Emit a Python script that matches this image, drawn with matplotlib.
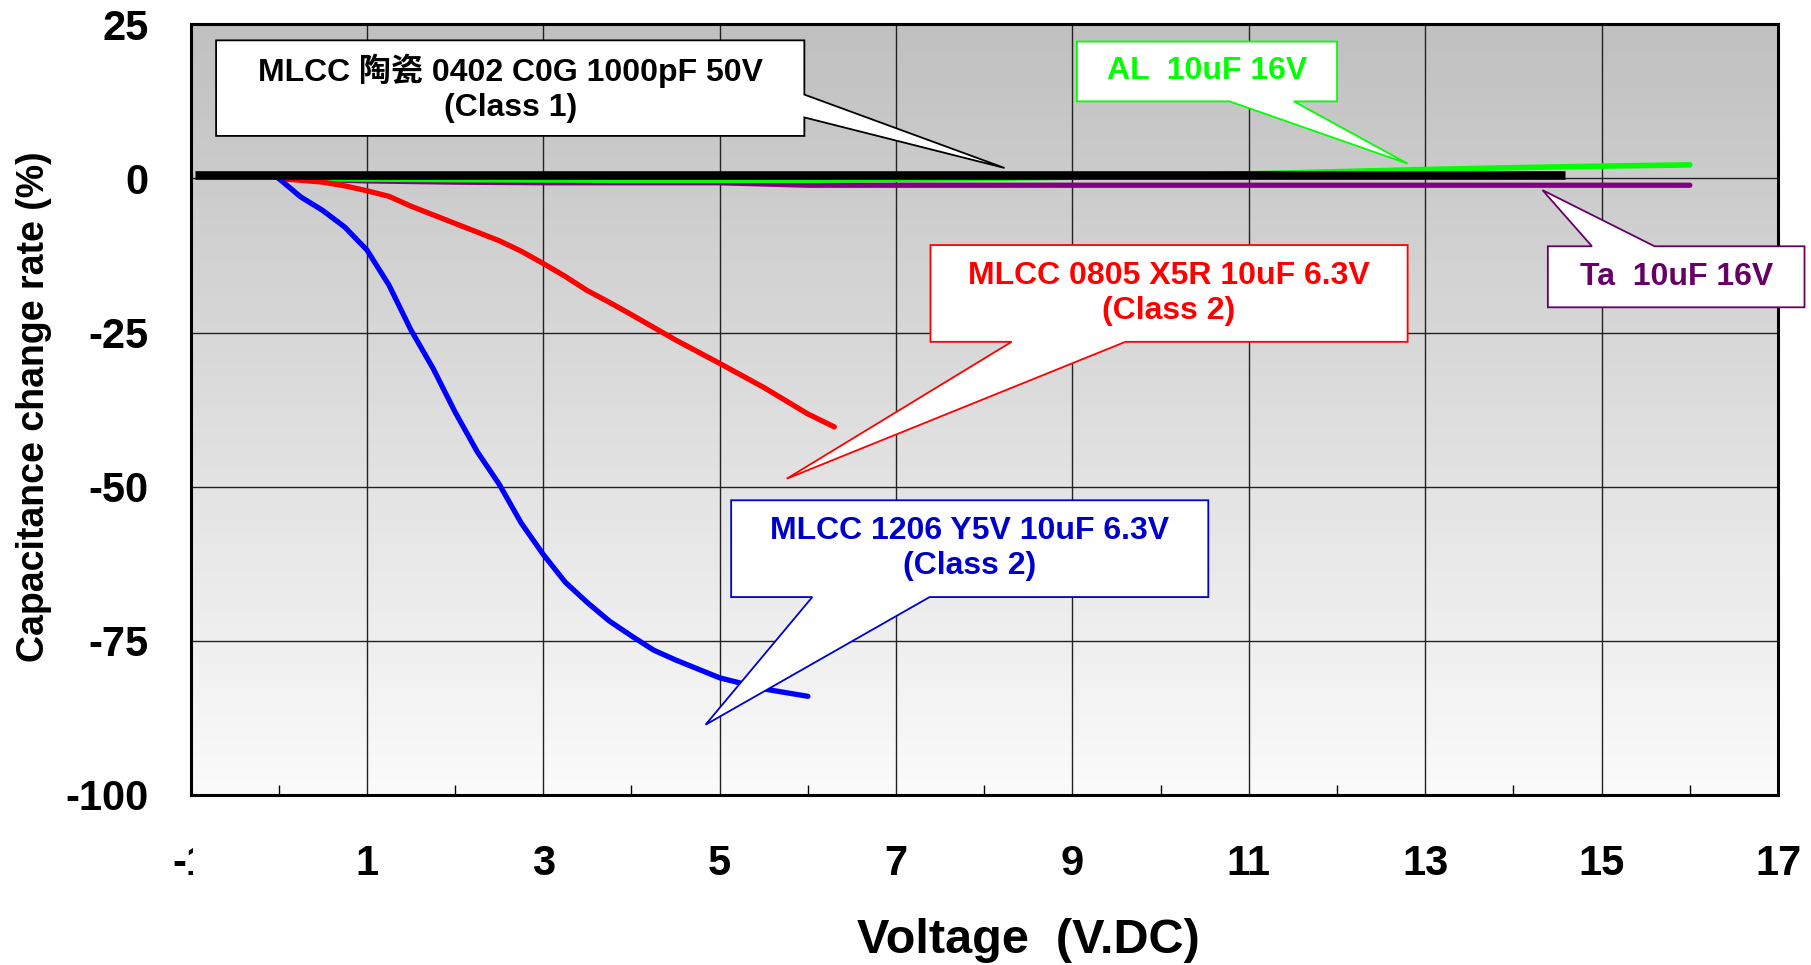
import matplotlib
matplotlib.use('Agg')
import matplotlib.pyplot as plt
import numpy as np
from matplotlib.patches import Polygon
from matplotlib.colors import LinearSegmentedColormap
from matplotlib.transforms import Bbox

plt.rcParams['font.family'] = ['Liberation Sans', 'Noto Sans CJK SC', 'DejaVu Sans']
plt.rcParams['font.weight'] = 'bold'

# --- datos ---
c0g_v = [-0.95, 14.58]
c0g_pct = [0.5, 0.5]

al_v = [0, 2, 4, 6, 8, 9, 10, 11, 12, 13, 14, 15, 16]
al_pct = [0, -0.2, -0.3, -0.3, 0, 0.2, 0.45, 0.75, 1.1, 1.45, 1.75, 2.0, 2.2]

ta_v = [0, 1, 2, 3, 4, 5, 5.5, 6, 8, 10, 12, 14, 16]
ta_pct = [0, -0.4, -0.6, -0.7, -0.7, -0.7, -0.9, -1.1, -1.1, -1.1, -1.1, -1.1, -1.1]

x5r_v = [0, 0.5, 0.75, 1.0, 1.25, 1.5, 1.75, 2.0, 2.25, 2.5, 2.75, 3.0, 3.25,
         3.5, 3.75, 4.0, 4.5, 5.0, 5.5, 6.0, 6.3]
x5r_pct = [0, -0.6, -1.2, -2.0, -2.9, -4.5, -5.9, -7.3, -8.7, -10.1, -11.8, -13.8,
           -15.9, -18.2, -20.1, -22.1, -26.2, -30.0, -33.9, -38.2, -40.3]

y5v_v = [0, 0.25, 0.5, 0.75, 1.0, 1.25, 1.5, 1.75, 2.0, 2.25, 2.5, 2.75, 3.0,
         3.25, 3.5, 3.75, 4.0, 4.25, 4.5, 5.0, 5.5, 6.0]
y5v_pct = [0, -3.0, -5.2, -7.9, -11.6, -17.3, -24.6, -30.8, -37.9, -44.3, -49.6,
           -55.9, -61.0, -65.5, -68.8, -71.8, -74.2, -76.5, -78.1, -81.0, -82.8, -84.0]

x_ticks = [-1, 1, 3, 5, 7, 9, 11, 13, 15, 17]
x_minor = [0, 2, 4, 6, 8, 10, 12, 14, 16]
y_ticks = [-100, -75, -50, -25, 0, 25]

# --- figura ---
fig = plt.figure(figsize=(18.11, 9.65), dpi=100)
ax = fig.add_axes([0.1052, 0.1762, 0.8766, 0.7986])

# fondo degradado del area de trazado
cmap_bg = LinearSegmentedColormap.from_list('bg', ['#c0c0c0', '#fbfbfb'])
ax.imshow(np.linspace(0, 1, 256).reshape(-1, 1), extent=[-1, 17, -100, 25],
          cmap=cmap_bg, aspect='auto', zorder=0)

ax.set_xlim(-1, 17)
ax.set_ylim(-100, 25)
ax.set_axisbelow(True)
ax.grid(True, which='major', color='#222222', linewidth=1.0)

ax.set_xticks(x_ticks, [str(t) for t in x_ticks])
ax.set_xticks(x_minor, minor=True)
ax.set_yticks(y_ticks, [str(t) for t in y_ticks])
ax.tick_params(axis='x', which='major', length=0, pad=35, labelsize=30)
ax.tick_params(axis='x', which='minor', direction='in', length=7, width=1.0)
ax.tick_params(axis='y', which='major', length=0, pad=30, labelsize=30)
for s in ax.spines.values():
    s.set_linewidth(2.2)

# curvas
ax.plot(ta_v, ta_pct, color='#800080', lw=3.8, solid_capstyle='round', zorder=2)
ax.plot(al_v, al_pct, color='#00ff00', lw=4.0, solid_capstyle='round', zorder=2.1)
ax.plot(x5r_v, x5r_pct, color='#ff0000', lw=3.8, solid_capstyle='round', zorder=2.2)
ax.plot(y5v_v, y5v_pct, color='#0000ff', lw=3.8, solid_capstyle='round', zorder=2.2)
ax.plot(c0g_v, c0g_pct, color='black', lw=6.2, solid_capstyle='butt', zorder=3)


def callout(ax, text, color, edge, box, side, base, tip):
    x0, x1, y0, y1 = box
    b1, b2 = base
    if side == 'right':
        pts = [(x0, y1), (x1, y1), (x1, b1), tip, (x1, b2), (x1, y0), (x0, y0)]
    elif side == 'bottom':
        pts = [(x0, y1), (x1, y1), (x1, y0), (b2, y0), tip, (b1, y0), (x0, y0)]
    else:
        pts = [(x0, y1), (b1, y1), tip, (b2, y1), (x1, y1), (x1, y0), (x0, y0)]
    ax.add_patch(Polygon(pts, closed=True, facecolor='white', edgecolor=edge,
                         linewidth=1.3, zorder=4, clip_on=False))
    ax.text((x0 + x1) / 2, (y0 + y1) / 2, text, color=color, fontsize=23,
            ha='center', va='center', zorder=5, linespacing=1.2)


callout(ax, 'MLCC 陶瓷 0402 C0G 1000pF 50V\n(Class 1)', 'black', 'black',
        (-0.71, 5.96, 6.9, 22.4), 'right', (13.6, 9.9), (8.23, 1.7))
callout(ax, 'AL  10uF 16V', '#00ff00', '#00ff00',
        (9.05, 12.0, 12.5, 22.2), 'bottom', (10.78, 11.51), (12.8, 2.4))
callout(ax, 'MLCC 0805 X5R 10uF 6.3V\n(Class 2)', '#ff0000', '#ff0000',
        (7.39, 12.8, -26.5, -10.8), 'bottom', (8.31, 9.6), (5.76, -48.7))
callout(ax, 'MLCC 1206 Y5V 10uF 6.3V\n(Class 2)', '#0000cc', '#0000cc',
        (5.13, 10.54, -67.9, -52.2), 'bottom', (6.05, 7.38), (4.84, -88.6))
callout(ax, 'Ta  10uF 16V', '#660066', '#660066',
        (14.39, 17.3, -20.9, -11.0), 'top', (14.89, 15.6), (14.33, -1.9))

# etiquetas de ejes
fig.text(0.0185, 0.579, 'Capacitance change rate (%)', rotation=90,
         ha='center', va='center', fontsize=27)
fig.text(0.5677, 0.0125, 'Voltage  (V.DC)', ha='center', va='baseline', fontsize=35)

# la etiqueta "-1" aparece recortada en el original
lbl = ax.get_xticklabels()[0]
lbl.set_clip_box(Bbox.from_extents(0, 0, 193, 965))
lbl.set_clip_on(True)

plt.savefig('out.png', dpi=100)
